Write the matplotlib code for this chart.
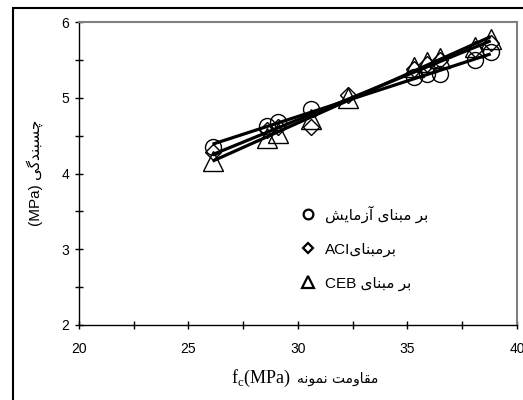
"""
Bond strength vs. concrete compressive strength: test results against ACI and CEB.
"""
import numpy as np
import matplotlib
matplotlib.use("Agg")
import matplotlib.pyplot as plt
from matplotlib.lines import Line2D
from matplotlib.patches import Rectangle

matplotlib.rcParams.update({
    "font.family": ["Liberation Sans", "DejaVu Sans"],
    "font.size": 10,
})

# compressive strength of the specimens (MPa)
fc_test = [26.1, 28.6, 29.1, 30.6, 35.3, 35.9, 36.5, 38.1, 38.8]
fc_code = [26.1, 28.6, 29.1, 30.6, 32.3, 35.3, 35.9, 36.5, 38.1, 38.8]

# bond strength (MPa)
bond_test = [4.35, 4.63, 4.68, 4.85, 5.27, 5.31, 5.31, 5.50, 5.60]
bond_aci = [4.28, 4.57, 4.62, 4.61, 5.03, 5.38, 5.45, 5.50, 5.65, 5.72]
bond_ceb = [4.17, 4.47, 4.53, 4.72, 5.00, 5.40, 5.47, 5.53, 5.67, 5.77]

# --- minimal Persian shaping (matplotlib has no bidi / joining support) ---
FORMS = {
    "ا": ("\uFE8D", "\uFE8E"),
    "آ": ("\uFE81", "\uFE82"),
    "د": ("\uFEA9", "\uFEAA"),
    "ر": ("\uFEAD", "\uFEAE"),
    "ز": ("\uFEAF", "\uFEB0"),
    "و": ("\uFEED", "\uFEEE"),
    "ب": ("\uFE8F", "\uFE90", "\uFE91", "\uFE92"),
    "ت": ("\uFE95", "\uFE96", "\uFE97", "\uFE98"),
    "س": ("\uFEB1", "\uFEB2", "\uFEB3", "\uFEB4"),
    "ش": ("\uFEB5", "\uFEB6", "\uFEB7", "\uFEB8"),
    "ق": ("\uFED5", "\uFED6", "\uFED7", "\uFED8"),
    "م": ("\uFEE1", "\uFEE2", "\uFEE3", "\uFEE4"),
    "ن": ("\uFEE5", "\uFEE6", "\uFEE7", "\uFEE8"),
    "ه": ("\uFEE9", "\uFEEA", "\uFEEB", "\uFEEC"),
    "ی": ("\uFBFC", "\uFBFD", "\uFBFE", "\uFBFF"),
    "چ": ("\uFB7A", "\uFB7B", "\uFB7C", "\uFB7D"),
    "گ": ("\uFB92", "\uFB93", "\uFB94", "\uFB95"),
}


def fa(text):
    """Return a Persian string in visual (left-to-right) order with joined forms."""
    out = []
    for i, ch in enumerate(text):
        if ch not in FORMS:
            out.append(ch)
            continue
        prev = text[i - 1] if i > 0 else ""
        nxt = text[i + 1] if i + 1 < len(text) else ""
        join_prev = prev in FORMS and len(FORMS[prev]) == 4
        join_next = len(FORMS[ch]) == 4 and nxt in FORMS
        f = FORMS[ch]
        if join_prev and join_next:
            out.append(f[3])
        elif join_next:
            out.append(f[2])
        elif join_prev:
            out.append(f[1])
        else:
            out.append(f[0])
    return "".join(reversed(out))


fig = plt.figure(figsize=(5.23, 4.0), dpi=100)
ax = fig.add_axes([0.151, 0.1875, 0.8375, 0.7575])

styles = [
    (fc_test, bond_test, "o", 11.5),
    (fc_code, bond_aci, "D", 8.5),
    (fc_code, bond_ceb, "^", 14),
]
for x, y, m, ms in styles:
    ax.plot(x, y, linestyle="none", marker=m, markersize=ms, fillstyle="none",
            markeredgecolor="black", markeredgewidth=1.0)

# linear trend lines on top of the markers
for x, y, m, ms in styles:
    k, b = np.polyfit(x, y, 1)
    xs = np.array([min(x), max(x)])
    ax.plot(xs, k * xs + b, color="black", linewidth=2.3, solid_capstyle="butt")

ax.set_xlim(20, 40)
ax.set_ylim(2, 6)
ax.set_xticks([20, 25, 30, 35, 40])
ax.set_xticks(np.arange(22.5, 40, 5), minor=True)
ax.set_yticks([2, 3, 4, 5, 6])
ax.set_yticks(np.arange(2.5, 6, 1), minor=True)
ax.tick_params(which="both", direction="inout", length=6, width=1, labelsize=10)
ax.tick_params(axis="x", pad=9)
ax.tick_params(axis="y", pad=4)

for side in ("left", "bottom"):
    ax.spines[side].set_color("black")
    ax.spines[side].set_linewidth(1.0)
for side in ("top", "right"):
    ax.spines[side].set_color("#808080")
    ax.spines[side].set_linewidth(1.5)

# x axis title: Latin part in serif, Persian part after it
fig.text(291 / 523, 1 - 378 / 400, "f$_\\mathregular{c}$(MPa)",
         ha="right", va="center", fontsize=13, family="Liberation Serif")
fig.text(297 / 523, 1 - 379 / 400, fa("مقاومت نمونه"),
         ha="left", va="center", fontsize=10, family="DejaVu Sans")
fig.text(0.066, 0.567, "(MPa) " + fa("چسبندگی"), rotation=90,
         ha="center", va="center", fontsize=11)

handles = [
    Line2D([], [], linestyle="none", marker="o", markersize=7, fillstyle="none",
           markeredgecolor="black", markeredgewidth=1.6),
    Line2D([], [], linestyle="none", marker="D", markersize=5.5, fillstyle="none",
           markeredgecolor="black", markeredgewidth=1.6),
    Line2D([], [], linestyle="none", marker="^", markersize=8, fillstyle="none",
           markeredgecolor="black", markeredgewidth=1.6),
]
labels = [fa("بر مبنای آزمایش"), "ACI" + fa("برمبنای"), "CEB " + fa("بر مبنای")]
ax.legend(handles, labels, loc="upper left", bbox_to_anchor=(0.505, 0.395),
          frameon=False, fontsize=11, handlelength=1.0, handletextpad=0.6,
          labelspacing=1.3, borderaxespad=0, borderpad=0)

# outer chart frame
fig.patches.append(Rectangle((13 / 523, -0.1), 1.2, 1.1 - 8 / 400,
                             transform=fig.transFigure, fill=False,
                             edgecolor="black", linewidth=1.5))

fig.savefig("out.png", dpi=100)
